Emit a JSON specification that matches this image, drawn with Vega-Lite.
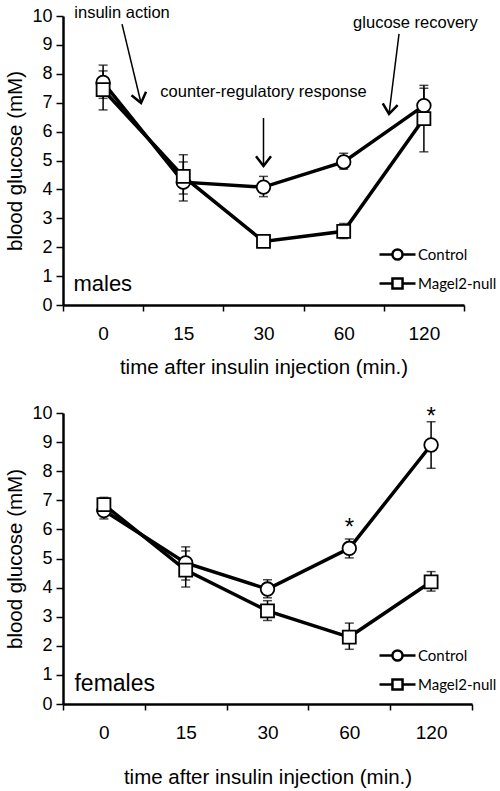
{
  "$schema": "https://vega.github.io/schema/vega-lite/v6.json",
  "padding": {"left": 5, "top": 5, "right": 0, "bottom": 0},
  "bounds": "flush",
  "spacing": 108,
  "resolve": {"scale": {"shape": "independent"}, "legend": {"shape": "independent"}},
  "config": {
    "view": {"stroke": null},
    "font": "Liberation Sans",
    "axis": {"domainColor": "black", "tickColor": "black", "labelColor": "black", "titleColor": "black", "titleFontWeight": "normal", "grid": false, "labelFont": "Liberation Sans", "titleFont": "Liberation Sans"},
    "axisY": {"tickCount": 10, "labelOverlap": false, "domainWidth": 2.5, "tickWidth": 1.5, "tickSize": 7, "labelFontSize": 18, "labelPadding": 4, "titleFontSize": 20.5, "titlePadding": 6}
  },
  "datasets": {
    "m": [
      {"time": 0, "group": "Control", "mean": 7.7, "lo": 7.15, "hi": 8.3},
      {"time": 15, "group": "Control", "mean": 4.25, "lo": 3.6, "hi": 4.95},
      {"time": 30, "group": "Control", "mean": 4.08, "lo": 3.75, "hi": 4.45},
      {"time": 60, "group": "Control", "mean": 4.95, "lo": 4.7, "hi": 5.25},
      {"time": 120, "group": "Control", "mean": 6.9, "lo": 6.3, "hi": 7.5},
      {"time": 0, "group": "Magel2-null", "mean": 7.45, "lo": 6.75, "hi": 8.1},
      {"time": 15, "group": "Magel2-null", "mean": 4.45, "lo": 3.84, "hi": 5.2},
      {"time": 30, "group": "Magel2-null", "mean": 2.2, "lo": 2.1, "hi": 2.3},
      {"time": 60, "group": "Magel2-null", "mean": 2.55, "lo": 2.3, "hi": 2.82},
      {"time": 120, "group": "Magel2-null", "mean": 6.45, "lo": 5.3, "hi": 7.6}
    ],
    "f": [
      {"time": 0, "group": "Control", "mean": 6.65, "lo": 6.36, "hi": 6.95},
      {"time": 15, "group": "Control", "mean": 4.85, "lo": 4.26, "hi": 5.4},
      {"time": 30, "group": "Control", "mean": 3.95, "lo": 3.65, "hi": 4.27},
      {"time": 60, "group": "Control", "mean": 5.35, "lo": 5.02, "hi": 5.67},
      {"time": 120, "group": "Control", "mean": 8.9, "lo": 8.1, "hi": 9.7},
      {"time": 0, "group": "Magel2-null", "mean": 6.85, "lo": 6.6, "hi": 7.1},
      {"time": 15, "group": "Magel2-null", "mean": 4.6, "lo": 4.02, "hi": 5.26},
      {"time": 30, "group": "Magel2-null", "mean": 3.2, "lo": 2.87, "hi": 3.55},
      {"time": 60, "group": "Magel2-null", "mean": 2.3, "lo": 1.88, "hi": 2.78},
      {"time": 120, "group": "Magel2-null", "mean": 4.2, "lo": 3.88, "hi": 4.55}
    ],
    "mnotes": [
      {"label": "insulin action", "x": 0.736, "y": 10.1},
      {"label": "counter-regulatory response", "x": 2.5, "y": 7.37},
      {"label": "glucose recovery", "x": 4.395, "y": 9.76}
    ],
    "marrows": [
      {"x": 0.736, "y": 9.72, "x2": 0.973, "y2": 6.99, "angle": -13.5},
      {"x": 2.5, "y": 6.47, "x2": 2.5, "y2": 4.81, "angle": 0},
      {"x": 4.19, "y": 9.38, "x2": 4.065, "y2": 6.61, "angle": 7}
    ],
    "mlabel": [{"label": "males", "x": 0.13, "y": 0.73}],
    "flabel": [{"label": "females", "x": 0.14, "y": 0.69}],
    "fstars": [
      {"x": 3.5, "y": 5.8},
      {"x": 4.5, "y": 9.62}
    ]
  },
  "vconcat": [
    {
      "width": 401,
      "height": 289,
      "resolve": {"scale": {"x": "independent"}},
      "layer": [
        {
          "data": {"name": "m"},
          "encoding": {
            "x": {"field": "time", "type": "ordinal", "title": "time after insulin injection (min.)",
              "scale": {"type": "band", "domain": [0, 15, 30, 60, 120], "paddingInner": 0, "paddingOuter": 0},
              "axis": {"tickBand": "extent", "domainWidth": 2.5, "tickWidth": 1.5, "tickSize": 6, "labelFontSize": 19, "labelPadding": 13, "labelAngle": 0, "titleFontSize": 20.5, "titlePadding": 14}}
          },
          "layer": [
            {
              "mark": {"type": "rule", "color": "black", "strokeWidth": 1.5},
              "encoding": {
                "y": {"field": "lo", "type": "quantitative", "title": "blood glucose (mM)", "scale": {"domain": [0, 10]}},
                "y2": {"field": "hi"}
              }
            },
            {
              "mark": {"type": "tick", "color": "black", "thickness": 1.5, "size": 9, "orient": "horizontal"},
              "encoding": {"y": {"field": "lo", "type": "quantitative", "title": "blood glucose (mM)"}}
            },
            {
              "mark": {"type": "tick", "color": "black", "thickness": 1.5, "size": 9, "orient": "horizontal"},
              "encoding": {"y": {"field": "hi", "type": "quantitative", "title": "blood glucose (mM)"}}
            },
            {
              "mark": {"type": "line", "color": "black", "strokeWidth": 3.5},
              "encoding": {"y": {"field": "mean", "type": "quantitative", "title": "blood glucose (mM)"}, "detail": {"field": "group"}}
            },
            {
              "transform": [{"filter": "datum.group == 'Control'"}],
              "mark": {"type": "point", "shape": "circle", "filled": true, "fill": "white", "stroke": "black", "strokeWidth": 1.8, "size": 185, "opacity": 1},
              "encoding": {"y": {"field": "mean", "type": "quantitative", "title": "blood glucose (mM)"}}
            },
            {
              "transform": [{"filter": "datum.group == 'Magel2-null'"}],
              "mark": {"type": "point", "shape": "square", "filled": true, "fill": "white", "stroke": "black", "strokeWidth": 1.8, "size": 169, "opacity": 1},
              "encoding": {"y": {"field": "mean", "type": "quantitative", "title": "blood glucose (mM)"}}
            },
            {
              "transform": [{"filter": "false"}],
              "mark": {"type": "point", "filled": false, "color": "black", "strokeWidth": 2.5},
              "encoding": {
                "y": {"field": "mean", "type": "quantitative", "title": "blood glucose (mM)"},
                "shape": {"field": "group", "type": "nominal",
                  "scale": {"domain": ["Control", "Magel2-null"], "range": ["M-1.5,0H-0.42M0.42,0H1.5M0.42,0A0.42,0.42,0,1,1,-0.42,0A0.42,0.42,0,1,1,0.42,0Z", "M-1.5,0H-0.42M0.42,0H1.5M-0.42,-0.42H0.42V0.42H-0.42Z"]},
                  "legend": {"orient": "none", "legendX": 321, "legendY": 225, "title": null, "padding": 0, "symbolSize": 576, "symbolStrokeColor": "black", "symbolStrokeWidth": 2.5, "symbolOpacity": 1, "labelFont": "Lato", "labelFontSize": 15, "labelColor": "black", "labelOffset": 7, "rowPadding": 5}
                }
              }
            }
          ]
        },
        {
          "layer": [
            {
              "data": {"name": "mnotes"},
              "mark": {"type": "text", "fontSize": 16.5, "color": "black", "align": "center", "baseline": "middle"},
              "encoding": {
                "x": {"field": "x", "type": "quantitative", "scale": {"domain": [0, 5], "nice": false}, "axis": null},
                "y": {"field": "y", "type": "quantitative", "title": "blood glucose (mM)", "scale": {"domain": [0, 10]}},
                "text": {"field": "label"}
              }
            },
            {
              "data": {"name": "marrows"},
              "mark": {"type": "rule", "color": "black", "strokeWidth": 1.5},
              "encoding": {
                "x": {"field": "x", "type": "quantitative", "scale": {"domain": [0, 5], "nice": false}, "axis": null},
                "x2": {"field": "x2"},
                "y": {"field": "y", "type": "quantitative", "title": "blood glucose (mM)", "scale": {"domain": [0, 10]}},
                "y2": {"field": "y2"}
              }
            },
            {
              "data": {"name": "marrows"},
              "mark": {"type": "point", "shape": "M-1,-1.3L0,0L1,-1.3", "size": 225, "filled": false, "stroke": "black", "strokeWidth": 2.5, "opacity": 1},
              "encoding": {
                "x": {"field": "x2", "type": "quantitative", "scale": {"domain": [0, 5], "nice": false}, "axis": null},
                "y": {"field": "y2", "type": "quantitative", "title": "blood glucose (mM)", "scale": {"domain": [0, 10]}},
                "angle": {"field": "angle", "type": "quantitative", "scale": null}
              }
            },
            {
              "data": {"name": "mlabel"},
              "mark": {"type": "text", "fontSize": 22, "color": "black", "align": "left", "baseline": "middle"},
              "encoding": {
                "x": {"field": "x", "type": "quantitative", "scale": {"domain": [0, 5], "nice": false}, "axis": null},
                "y": {"field": "y", "type": "quantitative", "title": "blood glucose (mM)", "scale": {"domain": [0, 10]}},
                "text": {"field": "label"}
              }
            }
          ]
        }
      ]
    },
    {
      "width": 409,
      "height": 291,
      "resolve": {"scale": {"x": "independent"}},
      "layer": [
        {
          "data": {"name": "f"},
          "encoding": {
            "x": {"field": "time", "type": "ordinal", "title": "time after insulin injection (min.)",
              "scale": {"type": "band", "domain": [0, 15, 30, 60, 120], "paddingInner": 0, "paddingOuter": 0},
              "axis": {"tickBand": "extent", "domainWidth": 2.5, "tickWidth": 1.5, "tickSize": 6, "labelFontSize": 19, "labelPadding": 13, "labelAngle": 0, "titleFontSize": 20.5, "titlePadding": 25}}
          },
          "layer": [
            {
              "mark": {"type": "rule", "color": "black", "strokeWidth": 1.5},
              "encoding": {
                "y": {"field": "lo", "type": "quantitative", "title": "blood glucose (mM)", "scale": {"domain": [0, 10]}},
                "y2": {"field": "hi"}
              }
            },
            {
              "mark": {"type": "tick", "color": "black", "thickness": 1.5, "size": 9, "orient": "horizontal"},
              "encoding": {"y": {"field": "lo", "type": "quantitative", "title": "blood glucose (mM)"}}
            },
            {
              "mark": {"type": "tick", "color": "black", "thickness": 1.5, "size": 9, "orient": "horizontal"},
              "encoding": {"y": {"field": "hi", "type": "quantitative", "title": "blood glucose (mM)"}}
            },
            {
              "mark": {"type": "line", "color": "black", "strokeWidth": 3.5},
              "encoding": {"y": {"field": "mean", "type": "quantitative", "title": "blood glucose (mM)"}, "detail": {"field": "group"}}
            },
            {
              "transform": [{"filter": "datum.group == 'Control'"}],
              "mark": {"type": "point", "shape": "circle", "filled": true, "fill": "white", "stroke": "black", "strokeWidth": 1.8, "size": 185, "opacity": 1},
              "encoding": {"y": {"field": "mean", "type": "quantitative", "title": "blood glucose (mM)"}}
            },
            {
              "transform": [{"filter": "datum.group == 'Magel2-null'"}],
              "mark": {"type": "point", "shape": "square", "filled": true, "fill": "white", "stroke": "black", "strokeWidth": 1.8, "size": 169, "opacity": 1},
              "encoding": {"y": {"field": "mean", "type": "quantitative", "title": "blood glucose (mM)"}}
            },
            {
              "transform": [{"filter": "false"}],
              "mark": {"type": "point", "filled": false, "color": "black", "strokeWidth": 2.5},
              "encoding": {
                "y": {"field": "mean", "type": "quantitative", "title": "blood glucose (mM)"},
                "shape": {"field": "group", "type": "nominal",
                  "scale": {"domain": ["Control", "Magel2-null"], "range": ["M-1.5,0H-0.42M0.42,0H1.5M0.42,0A0.42,0.42,0,1,1,-0.42,0A0.42,0.42,0,1,1,0.42,0Z", "M-1.5,0H-0.42M0.42,0H1.5M-0.42,-0.42H0.42V0.42H-0.42Z"]},
                  "legend": {"orient": "none", "legendX": 321, "legendY": 229, "title": null, "padding": 0, "symbolSize": 576, "symbolStrokeColor": "black", "symbolStrokeWidth": 2.5, "symbolOpacity": 1, "labelFont": "Lato", "labelFontSize": 15, "labelColor": "black", "labelOffset": 7, "rowPadding": 5}
                }
              }
            }
          ]
        },
        {
          "layer": [
            {
              "data": {"name": "fstars"},
              "mark": {"type": "text", "fontSize": 24, "color": "black", "align": "center", "baseline": "alphabetic", "text": "*"},
              "encoding": {
                "x": {"field": "x", "type": "quantitative", "scale": {"domain": [0, 5], "nice": false}, "axis": null},
                "y": {"field": "y", "type": "quantitative", "title": "blood glucose (mM)", "scale": {"domain": [0, 10]}}
              }
            },
            {
              "data": {"name": "flabel"},
              "mark": {"type": "text", "fontSize": 23, "color": "black", "align": "left", "baseline": "middle"},
              "encoding": {
                "x": {"field": "x", "type": "quantitative", "scale": {"domain": [0, 5], "nice": false}, "axis": null},
                "y": {"field": "y", "type": "quantitative", "title": "blood glucose (mM)", "scale": {"domain": [0, 10]}},
                "text": {"field": "label"}
              }
            }
          ]
        }
      ]
    }
  ]
}
